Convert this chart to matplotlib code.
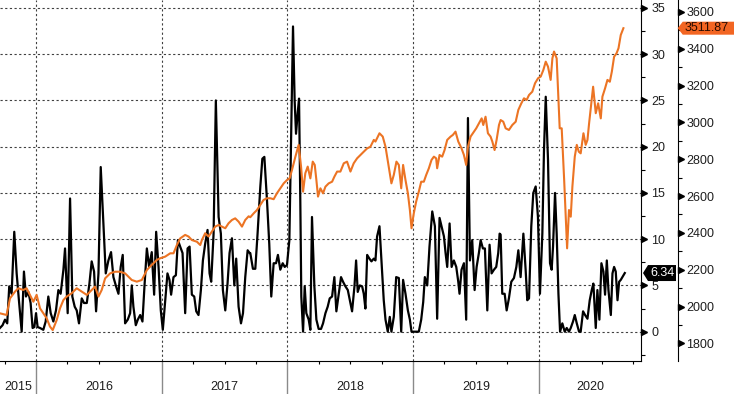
import numpy as np
import matplotlib
matplotlib.use("Agg")
import matplotlib.pyplot as plt
import matplotlib.transforms as mtransforms
from matplotlib.patches import Polygon

plt.rcParams['font.family'] = ['Liberation Sans', 'DejaVu Sans']

# black series (left/inner scale), dates as decimal years
black_t = [
    2015.713, 2015.734, 2015.753, 2015.771, 2015.787, 2015.806, 2015.827, 2015.846, 2015.864, 2015.886,
    2015.904, 2015.920, 2015.939, 2015.957, 2015.973, 2015.987, 2016.000, 2016.013, 2016.032, 2016.058,
    2016.077, 2016.098, 2016.117, 2016.138, 2016.159, 2016.178, 2016.196, 2016.218, 2016.231, 2016.252,
    2016.271, 2016.289, 2016.308, 2016.324, 2016.342, 2016.364, 2016.382, 2016.404, 2016.425, 2016.443,
    2016.462, 2016.478, 2016.497, 2016.515, 2016.536, 2016.555, 2016.576, 2016.597, 2016.616, 2016.637,
    2016.656, 2016.674, 2016.690,
    2016.709, 2016.730, 2016.749, 2016.762, 2016.775, 2016.794, 2016.810, 2016.829, 2016.847, 2016.863,
    2016.882, 2016.900, 2016.921, 2016.940, 2016.956, 2016.975, 2016.993, 2017.009, 2017.028, 2017.046,
    2017.062, 2017.075, 2017.094, 2017.113, 2017.129, 2017.147, 2017.166, 2017.187, 2017.206, 2017.222,
    2017.240, 2017.259, 2017.275, 2017.293, 2017.312, 2017.328, 2017.346, 2017.365, 2017.381, 2017.394,
    2017.413, 2017.431, 2017.453, 2017.471, 2017.487, 2017.506, 2017.524, 2017.540, 2017.559, 2017.578,
    2017.593, 2017.612, 2017.631, 2017.647, 2017.665, 2017.684, 2017.700,
    2017.705, 2017.726, 2017.745, 2017.763, 2017.785, 2017.801, 2017.817, 2017.838, 2017.856, 2017.872,
    2017.891, 2017.910, 2017.925, 2017.944, 2017.963, 2017.979, 2017.997, 2018.016, 2018.029, 2018.045,
    2018.058, 2018.069, 2018.082, 2018.093, 2018.103, 2018.111, 2018.125, 2018.138, 2018.151, 2018.170,
    2018.183, 2018.196, 2018.215, 2018.231, 2018.249, 2018.268, 2018.284, 2018.303, 2018.321, 2018.337,
    2018.356, 2018.374, 2018.390, 2018.409, 2018.427, 2018.443, 2018.462, 2018.481, 2018.497, 2018.515,
    2018.534, 2018.547, 2018.560, 2018.576, 2018.595, 2018.608, 2018.621, 2018.635, 2018.653, 2018.669,
    2018.688,
    2018.701, 2018.714, 2018.733, 2018.749, 2018.767, 2018.781, 2018.799, 2018.815, 2018.828, 2018.847,
    2018.866, 2018.887, 2018.906, 2018.921, 2018.940, 2018.959, 2018.975, 2018.988, 2019.006, 2019.025,
    2019.046, 2019.065, 2019.081, 2019.094, 2019.113, 2019.131, 2019.153, 2019.174, 2019.192, 2019.211,
    2019.227, 2019.246, 2019.259, 2019.272, 2019.291, 2019.307, 2019.325, 2019.344, 2019.360, 2019.370,
    2019.386, 2019.405, 2019.423, 2019.437, 2019.453, 2019.471, 2019.490, 2019.506, 2019.524, 2019.538,
    2019.556, 2019.572, 2019.591, 2019.609, 2019.625, 2019.644, 2019.662, 2019.678, 2019.689,
    2019.697, 2019.710, 2019.729, 2019.745, 2019.763, 2019.782, 2019.803, 2019.822, 2019.838, 2019.856,
    2019.878, 2019.896, 2019.909, 2019.923, 2019.941, 2019.957, 2019.976, 2019.994, 2020.010, 2020.029,
    2020.042, 2020.056, 2020.074, 2020.090, 2020.103, 2020.114, 2020.130, 2020.143, 2020.157, 2020.170,
    2020.188, 2020.207, 2020.223, 2020.241, 2020.255, 2020.273, 2020.287, 2020.303, 2020.321, 2020.334,
    2020.353, 2020.369, 2020.388, 2020.406, 2020.422, 2020.435, 2020.454, 2020.467, 2020.483, 2020.499,
    2020.515, 2020.528, 2020.542, 2020.555, 2020.574, 2020.587, 2020.600, 2020.613, 2020.627, 2020.640,
    2020.653, 2020.666, 2020.685,
]
black_v = [
    0.4, 0.7, 1.3, 0.9, 4.9, 4.1, 10.8, 6.3, 3.4, 0.0,
    6.5, 3.8, 4.3, 3.1, 0.4, 0.5, 2.0, 0.5, 0.4, 0.2,
    1.1, 3.8, 2.0, 1.1, 2.3, 4.5, 4.1, 6.7, 9.0, 2.0,
    14.4, 3.8, 2.7, 2.3, 0.9, 3.6, 3.1, 3.1, 5.2, 7.6,
    6.5, 2.2, 6.3, 17.8, 11.7, 6.3, 7.7, 8.6, 5.9, 4.9,
    4.1, 7.0, 8.3,
    0.9, 1.3, 2.0, 5.0, 2.7, 0.7, 1.3, 1.8, 1.1, 4.9,
    9.0, 7.0, 8.6, 4.0, 10.8, 7.0, 2.3, 0.2, 3.4, 6.3,
    5.6, 4.0, 5.9, 6.1, 9.9, 9.2, 8.5, 2.0, 9.0, 9.2,
    4.0, 3.8, 2.2, 1.8, 4.5, 7.7, 9.5, 11.0, 6.3, 5.4,
    10.6, 25.0, 12.4, 10.6, 4.5, 2.3, 5.2, 8.5, 10.1, 5.0,
    7.9, 2.7, 0.9, 2.0, 5.9, 8.8, 8.5,
    8.5, 6.8, 6.8, 10.6, 15.7, 18.7, 18.9, 14.2, 9.5, 3.8,
    7.4, 7.4, 8.3, 6.7, 7.4, 7.0, 7.2, 9.9, 20.0, 33.0,
    25.0, 21.4, 23.6, 25.2, 14.2, 3.8, 0.0, 4.9, 2.0, 1.3,
    0.2, 12.4, 4.9, 1.3, 0.3, 0.3, 0.9, 2.0, 2.7, 3.6,
    3.8, 5.9, 2.2, 4.1, 5.9, 5.4, 4.9, 4.5, 3.4, 2.2,
    4.9, 7.7, 4.3, 5.0, 4.9, 4.1, 2.5, 8.3, 7.9, 7.6,
    7.9,
    7.7, 10.3, 11.4, 7.7, 3.4, 1.3, 0.0, 1.6, 0.0, 1.6,
    5.9, 5.8, 0.0, 5.6, 4.1, 2.3, 1.3, 0.0, 0.0, 0.0,
    0.0, 1.3, 3.2, 5.9, 5.0, 9.2, 13.0, 11.4, 1.4, 12.3,
    11.4, 10.3, 8.5, 7.0, 11.7, 7.0, 7.7, 7.0, 5.4, 4.1,
    6.7, 7.4, 1.3, 23.1, 7.7, 9.9, 4.5, 7.0, 8.5, 9.9,
    9.0, 9.0, 2.3, 9.4, 6.3, 6.7, 7.0, 8.5, 10.6,
    10.5, 4.1, 4.1, 2.3, 3.6, 5.4, 5.8, 7.0, 8.8, 5.9,
    10.6, 6.7, 3.4, 3.6, 11.4, 15.0, 15.7, 12.4, 4.1, 10.6,
    19.6, 25.4, 18.6, 7.4, 6.7, 9.2, 15.0, 10.6, 4.1, 0.0,
    0.9, 0.0, 0.4, 0.0, 0.4, 1.1, 1.8, 0.9, 0.0, 0.0,
    2.2, 1.8, 1.4, 3.4, 4.5, 5.2, 0.4, 4.5, 1.3, 7.4,
    6.5, 4.0, 7.7, 4.5, 1.8, 6.3, 7.0, 6.5, 3.4, 5.4,
    5.6, 5.9, 6.34,
]

# orange series (outer scale)
spx_t = [
    2015.713, 2015.766, 2015.793, 2015.833, 2015.859, 2015.899, 2015.925, 2015.952, 2015.979, 2016.005,
    2016.032, 2016.058, 2016.085, 2016.111, 2016.133, 2016.165, 2016.191, 2016.218, 2016.244, 2016.284,
    2016.324, 2016.364, 2016.404, 2016.430, 2016.470, 2016.497, 2016.523, 2016.550, 2016.590, 2016.629,
    2016.669, 2016.709, 2016.736, 2016.762, 2016.802, 2016.842, 2016.882, 2016.908, 2016.935, 2016.961,
    2016.988, 2017.028, 2017.068, 2017.094, 2017.121, 2017.147, 2017.187, 2017.214, 2017.240, 2017.280,
    2017.307,
    2017.320, 2017.346, 2017.373, 2017.400, 2017.426, 2017.453, 2017.479, 2017.506, 2017.532, 2017.559,
    2017.585, 2017.612, 2017.639, 2017.665, 2017.692,
    2017.705, 2017.732, 2017.758, 2017.785, 2017.811, 2017.838, 2017.864, 2017.891, 2017.917, 2017.944,
    2017.971, 2017.997, 2018.018, 2018.037, 2018.064, 2018.090, 2018.109, 2018.125, 2018.143, 2018.162,
    2018.183, 2018.202, 2018.218, 2018.231, 2018.244, 2018.263, 2018.284, 2018.303, 2018.329, 2018.356,
    2018.374, 2018.396, 2018.422, 2018.449, 2018.475, 2018.502, 2018.528, 2018.555, 2018.581, 2018.608,
    2018.635, 2018.661, 2018.688,
    2018.701, 2018.733, 2018.759, 2018.781, 2018.802, 2018.828, 2018.847, 2018.868, 2018.887, 2018.906,
    2018.921, 2018.940, 2018.959, 2018.975, 2018.988, 2019.006, 2019.025, 2019.046, 2019.065, 2019.086,
    2019.105, 2019.126, 2019.147, 2019.166, 2019.184, 2019.192, 2019.211, 2019.232, 2019.251, 2019.272,
    2019.299, 2019.317, 2019.338, 2019.360, 2019.386, 2019.405, 2019.423, 2019.437, 2019.458, 2019.485,
    2019.503, 2019.524, 2019.546, 2019.559, 2019.577, 2019.596, 2019.617, 2019.631, 2019.649, 2019.665,
    2019.684,
    2019.697, 2019.718, 2019.737, 2019.763, 2019.790, 2019.817, 2019.838, 2019.862, 2019.883, 2019.904,
    2019.923, 2019.949, 2019.971, 2019.995, 2020.016, 2020.037, 2020.056, 2020.074, 2020.095, 2020.109,
    2020.122, 2020.143, 2020.154, 2020.167, 2020.183, 2020.202, 2020.215, 2020.226, 2020.241, 2020.255,
    2020.268, 2020.287, 2020.303, 2020.319, 2020.334, 2020.356, 2020.374, 2020.388, 2020.401, 2020.419,
    2020.433, 2020.454, 2020.473, 2020.494, 2020.507, 2020.528, 2020.547, 2020.566, 2020.582, 2020.600,
    2020.619, 2020.635, 2020.653, 2020.674,
]
spx_v = [
    1963, 1954, 2044, 2081, 2099, 2090, 2099, 2063, 2026, 2063,
    1990, 1963, 1936, 1891, 1872, 1927, 1990, 2035, 2054, 2072,
    2099, 2081, 2063, 2081, 2108, 2054, 2090, 2153, 2180, 2189,
    2189, 2180, 2162, 2144, 2135, 2144, 2198, 2217, 2235, 2253,
    2262, 2271, 2289, 2289, 2334, 2370, 2389, 2380, 2361, 2352,
    2334,
    2361, 2398, 2380, 2407, 2434, 2443, 2434, 2425, 2452, 2470,
    2479, 2461, 2434, 2470, 2490,
    2485, 2506, 2524, 2552, 2579, 2588, 2588, 2583, 2615, 2642,
    2669, 2687, 2696, 2742, 2814, 2878, 2760, 2624, 2724, 2760,
    2696, 2787, 2769, 2687, 2597, 2642, 2615, 2651, 2669, 2678,
    2705, 2733, 2733, 2778, 2787, 2733, 2778, 2805, 2823, 2841,
    2859, 2868, 2905,
    2896, 2941, 2923, 2868, 2778, 2669, 2715, 2787, 2769, 2642,
    2769, 2687, 2615, 2524, 2425, 2506, 2570, 2624, 2678, 2678,
    2715, 2751, 2796, 2814, 2805, 2751, 2823, 2814, 2850, 2905,
    2923, 2932, 2950, 2896, 2859, 2823, 2769, 2868, 2923, 2950,
    2968, 2995, 3022, 2986, 3031, 2941, 2923, 2896, 2850, 2905,
    2986,
    3013, 3004, 2968, 2959, 2986, 3004, 3068, 3104, 3131, 3122,
    3149, 3167, 3213, 3240, 3249, 3285, 3330, 3303, 3231, 3348,
    3385, 3348, 3176, 2968, 2968, 2696, 2488, 2316, 2524, 2488,
    2651, 2814, 2878, 2841, 2832, 2941, 2878, 2905, 2995, 3104,
    3194, 3050, 3104, 3022, 3140, 3185, 3231, 3221, 3276, 3357,
    3375, 3403, 3475, 3511.87,
]

year_labels = ['2015', '2016', '2017', '2018', '2019', '2020']
year_starts = [2016, 2017, 2018, 2019, 2020]
inner_ticks = [0, 5, 10, 15, 20, 25, 30, 35]
outer_ticks = [1800, 2000, 2200, 2400, 2600, 2800, 3000, 3200, 3400, 3600]

X_MIN, X_MAX = 2015.7135, 2020.814
ORANGE = '#ec7424'
TXT = '#1e1e1e'

fig = plt.figure(figsize=(7.34, 3.94), dpi=100)
ax = fig.add_axes([0.0, 33 / 394, 641 / 734, 361 / 394])
ax2 = ax.twinx()

ax.plot(black_t, black_v, color='black', lw=1.6, zorder=3)
ax2.plot(spx_t, spx_v, color=ORANGE, lw=1.5, zorder=3)

# spines
ax.spines['top'].set_visible(False)
ax.spines['left'].set_visible(False)
for s in ['top', 'left', 'bottom']:
    ax2.spines[s].set_visible(False)
ax2.spines['right'].set_position(('axes', 1.0573))

# inner axis (black series)
ax.yaxis.tick_right()
ax.set_yticks(inner_ticks)
ax.set_yticks(np.arange(-2.5, 35, 5), minor=True)
ax.tick_params(axis='y', which='major', length=0, pad=7.5, labelsize=9, labelcolor=TXT)
ax.tick_params(axis='y', which='minor', length=2.8, width=0.8, direction='out')

# outer axis (orange series)
ax2.set_yticks(outer_ticks)
ax2.set_yticks(np.arange(1900, 3600, 200), minor=True)
ax2.tick_params(axis='y', which='major', length=0, pad=6, labelsize=9, labelcolor=TXT)
ax2.tick_params(axis='y', which='minor', length=2.8, width=0.8, direction='out')

# x axis: year separators + quarter ticks, labels centred in each year
ax.set_xticks(year_starts)
ax.set_xticklabels([])
quarters = [q for q in np.arange(2015.75, 2020.8, 0.25) if q % 1 != 0]
ax.set_xticks(quarters, minor=True)
ax.tick_params(axis='x', which='major', length=24, width=1, color='#8a8a8a', direction='out')
ax.tick_params(axis='x', which='minor', length=2.5, width=0.8, color='black', direction='out')

label_tr = mtransforms.blended_transform_factory(ax.transData, ax.transAxes)
for lab in year_labels:
    yr = int(lab)
    lo, hi = max(yr, X_MIN), min(yr + 1, X_MAX)
    ax.text((lo + hi) / 2, -25.5 / 361, lab, transform=label_tr, ha='center', va='center',
            fontsize=9, color=TXT)

ax.grid(True, which='major', axis='both', linestyle=(0, (2, 2.2)), color='#404040', lw=0.8)
ax.set_axisbelow(True)


def tick_arrows(axis, xpos, ticks):
    base = mtransforms.blended_transform_factory(axis.transAxes, axis.transData)
    tr = mtransforms.offset_copy(base, fig=fig, x=3, y=0, units='dots')
    axis.plot([xpos] * len(ticks), ticks, ls='none', marker='>', ms=4.6, color='black',
              transform=tr, clip_on=False, zorder=6)


def value_tag(axis, xpos, value, label, fc, tc, dx, width, h):
    base = mtransforms.blended_transform_factory(axis.transAxes, axis.transData)
    tr = mtransforms.Affine2D() + mtransforms.ScaledTranslation(xpos, value, base)
    verts = [(dx, 0), (dx + 5, -h), (width, -h), (width, h), (dx + 5, h)]
    fig.add_artist(Polygon(verts, closed=True, transform=tr, fc=fc, ec='none',
                           zorder=7, clip_on=False))
    ttr = mtransforms.offset_copy(base, fig=fig, x=dx + 7, y=0, units='dots')
    fig.text(xpos, value, label, transform=ttr, ha='left', va='center',
             fontsize=9, color=tc, zorder=8)


tick_arrows(ax, 1.0, inner_ticks)
tick_arrows(ax2, 1.0573, outer_ticks)

ax.set_xlim(X_MIN, X_MAX)
ax.set_ylim(-3.17, 35.86)
ax2.set_ylim(1704, 3665)

value_tag(ax2, 1.0573, spx_v[-1], f'{spx_v[-1]:.2f}', '#f26522', '#2a0c00', 0, 60, 6.5)
value_tag(ax, 1.0, black_v[-1], f'{black_v[-1]:.2f}', 'black', 'white', 2, 35, 8)

fig.savefig('out.png', dpi=100)
